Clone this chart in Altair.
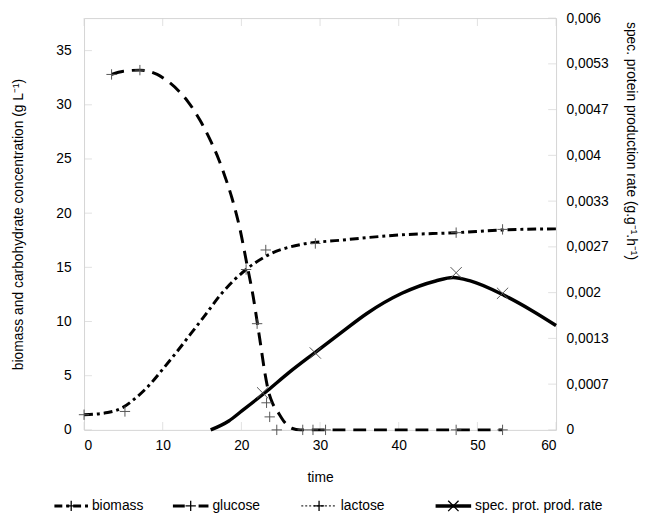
import altair as alt
import pandas as pd

# ---------------- data ----------------
x_ticks = [0, 10, 20, 30, 40, 50, 60]
y_left_ticks = [0, 5, 10, 15, 20, 25, 30, 35]
y_right_labels = ["0", "0,0007", "0,0013", "0,002", "0,0027", "0,0033",
                  "0,004", "0,0047", "0,0053", "0,006"]
y_right_ticks = [0.006 * i / 9 for i in range(10)]

# fitted curves
biomass_curve_t = [0, 3, 5, 6.5, 8, 10, 11.9, 13.6, 15.2, 17.5, 20.6, 23.3, 27.5, 32.6, 40.4, 47.3, 53.2, 60]
biomass_curve_v = [1.4, 1.6, 2.1, 2.9, 3.9, 5.6, 7.3, 8.9, 10.4, 12.6, 14.8, 16.1, 17.1, 17.5, 18.0, 18.2, 18.45, 18.55]

glucose_curve_t = [3.5, 5, 7.1, 9.3, 10.6, 12, 13.2, 14.8, 16.2, 17.1, 18.0, 18.8, 19.8, 20.7, 21.5,
                   22.0, 22.5, 23.0, 23.5, 24.0, 24.6, 25.5, 26.4, 27.5, 35, 45, 53.2]
glucose_curve_v = [32.8, 33.1, 33.2, 32.8, 32.2, 31.3, 30.3, 28.5, 26.5, 25.0, 23.2, 21.4, 18.6, 15.3, 12.3,
                   10.0, 7.6, 5.2, 3.4, 2.4, 1.7, 0.7, 0.15, 0, 0, 0, 0]

spec_curve_t = [16.1, 18.4, 20.1, 23.3, 26, 29.4, 32.6, 36, 40.4, 44.7, 46.9, 49.1, 53.4, 56.9, 60]
spec_curve_v = [0, 0.00013, 0.00028, 0.00057, 0.00083, 0.00113, 0.00141, 0.0017, 0.00199,
                0.00217, 0.00222, 0.00217, 0.00196, 0.00174, 0.00152]

# measured points
biomass_pts_t = [0, 5.2, 23.1, 29.4, 47.3, 53.2]
biomass_pts_v = [1.4, 1.7, 16.6, 17.2, 18.2, 18.5]
glucose_pts_t = [3.5, 7.1, 20.6, 22.0, 27.8, 29.1, 30.7, 47.3, 53.2]
glucose_pts_v = [32.8, 33.2, 14.8, 9.8, 0, 0, 0, 0, 0]
lactose_pts_t = [23.2, 23.6, 24.5]
lactose_pts_v = [2.5, 1.2, 0.0]
spec_pts_t = [22.7, 29.4, 47.3, 53.2]
spec_pts_v = [0.00054, 0.00112, 0.00229, 0.00199]

legend_names = ["biomass", "glucose", "lactose", "spec. prot. prod. rate"]

# ---------------- styling ----------------
FONT = "Liberation Sans"
FRAME = "#d4d4d4"
MARK_GREY = "#555555"
PLUS = "M-1,0L1,0M0,-1L0,1"
CROSS = "M-1,-1L1,1M-1,1L1,-1"

x_enc = alt.X("t:Q", scale=alt.Scale(domain=[0, 60], nice=False, zero=False, padding=0),
              axis=alt.Axis(values=x_ticks, title="time", labelPadding=9,
                            titleY=48, titleBaseline="middle"))
left_scale = alt.Scale(domain=[0, 38], nice=False, zero=False, padding=0)
right_scale = alt.Scale(domain=[0, 0.006], nice=False, zero=False, padding=0)

left_axis = alt.Axis(values=y_left_ticks, title="biomass and carbohydrate concentration (g L⁻¹)",
                     labelPadding=13, titleX=-66, titleBaseline="middle")
label_expr = "[" + ",".join("'%s'" % s for s in y_right_labels) + "][round(datum.value / 0.006 * 9)]"
right_axis = alt.Axis(values=y_right_ticks, orient="right", labelExpr=label_expr,
                      title="spec. protein production rate (g.g⁻¹.h⁻¹)", labelPadding=10,
                      titlePadding=16, titleY=124, titleAngle=90)


def df(t, v):
    return pd.DataFrame({"t": t, "v": v})


def yl():
    return alt.Y("v:Q", scale=left_scale, axis=left_axis)


def yr():
    return alt.Y("v:Q", scale=right_scale, axis=right_axis)


# frame ticks (inward)
bottom_ticks = alt.Chart(pd.DataFrame({"t": x_ticks})).mark_tick(
    color=FRAME, size=8, thickness=1).encode(x=x_enc, y=alt.value({"expr": "height - 4"}))
top_ticks = alt.Chart(pd.DataFrame({"t": x_ticks})).mark_tick(
    color=FRAME, size=8, thickness=1).encode(x=x_enc, y=alt.value(4))
left_ticks = alt.Chart(pd.DataFrame({"v": y_left_ticks})).mark_tick(
    color=FRAME, size=8, thickness=1).encode(y=yl(), x=alt.value(4))

biomass_line = alt.Chart(df(biomass_curve_t, biomass_curve_v)).mark_line(
    color="black", strokeWidth=3, strokeDash=[9, 4, 3, 4], interpolate="monotone"
).encode(x=x_enc, y=yl())
glucose_line = alt.Chart(df(glucose_curve_t, glucose_curve_v)).mark_line(
    color="black", strokeWidth=3, strokeDash=[13, 8], interpolate="monotone"
).encode(x=x_enc, y=yl())


def pts(t, v, shape, size, scale):
    y = yl() if scale == "l" else yr()
    return alt.Chart(df(t, v)).mark_point(
        shape=shape, size=size, filled=False, strokeWidth=1, color=MARK_GREY, opacity=1
    ).encode(x=x_enc, y=y)


# ---------------- legend row (below the plot, relative to its bottom) ----------------
ORIGIN = 88  # absolute x of plot left edge in the reference
LEG_Y = {"expr": "height + 77"}
leg_x0 = [58, 178, 308, 444]
leg_len = [34, 36, 36, 36]
leg_dash = [[8, 4, 3, 4], [12, 14], [2, 2], [1, 0]]
leg_w = [3, 3, 1.2, 3.5]
leg_col = ["black", "black", "#333333", "black"]
leg_shape = [PLUS, PLUS, PLUS, CROSS]

leg_layers = []
for i, name in enumerate(legend_names):
    x0 = leg_x0[i] - ORIGIN
    x1 = x0 + leg_len[i]
    base = alt.Chart(pd.DataFrame({"name": [name]}))
    leg_layers.append(base.mark_rule(color=leg_col[i], strokeWidth=leg_w[i], strokeDash=leg_dash[i]).encode(
        x=alt.value(x0), x2=alt.value(x1), y=alt.value(LEG_Y)))
    leg_layers.append(base.mark_point(shape=leg_shape[i], size=110, filled=False, strokeWidth=1.3,
                                      color="black", opacity=1).encode(
        x=alt.value((x0 + x1) / 2), y=alt.value(LEG_Y)))
    leg_layers.append(base.mark_text(align="left", baseline="middle", font=FONT, fontSize=14,
                                     color="black").encode(
        x=alt.value(x1 + 4), y=alt.value(LEG_Y), text="name:N"))

left = alt.layer(
    left_ticks, bottom_ticks, top_ticks,
    biomass_line, glucose_line,
    pts(biomass_pts_t, biomass_pts_v, PLUS, 110, "l"),
    pts(glucose_pts_t, glucose_pts_v, PLUS, 110, "l"),
    pts(lactose_pts_t, lactose_pts_v, PLUS, 110, "l"),
)

right_ticks = alt.Chart(pd.DataFrame({"v": y_right_ticks})).mark_tick(
    color=FRAME, size=8, thickness=1).encode(y=yr(), x=alt.value({"expr": "width - 4"}))
spec_line = alt.Chart(df(spec_curve_t, spec_curve_v)).mark_line(
    color="black", strokeWidth=3.5, interpolate="monotone").encode(x=x_enc, y=yr())
right = alt.layer(right_ticks, spec_line, pts(spec_pts_t, spec_pts_v, CROSS, 130, "r"))

chart = alt.layer(left, right, *leg_layers).resolve_scale(y="independent").properties(
    width=640, height=509,
    autosize=alt.AutoSizeParams(type="fit", contains="padding"),
    padding={"left": 4, "top": 0, "right": 2, "bottom": 0},
).configure_view(stroke=FRAME, strokeWidth=1).configure_axis(
    domain=False, ticks=False, tickSize=0, grid=False,
    labelFont=FONT, labelFontSize=14, labelColor="black",
    titleFont=FONT, titleFontSize=14, titleFontWeight="normal", titleColor="black"
)

chart.save("out.html", embed_options={"renderer": "svg", "actions": False})
